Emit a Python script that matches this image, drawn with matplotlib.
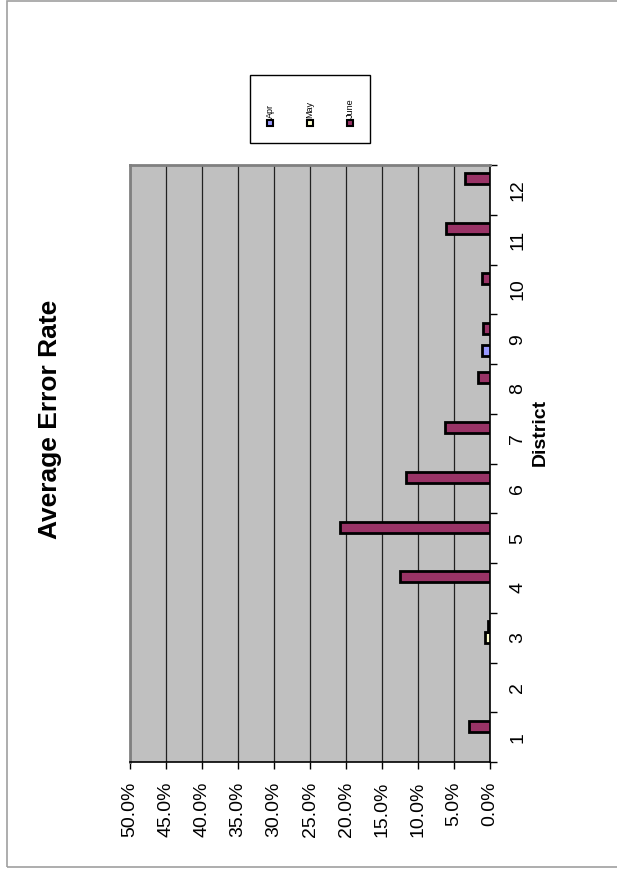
import matplotlib
matplotlib.use("Agg")
import matplotlib.pyplot as plt
import numpy as np
from matplotlib.patches import Rectangle

plt.rcParams['font.family'] = ['Liberation Sans', 'DejaVu Sans']

districts = [1, 2, 3, 4, 5, 6, 7, 8, 9, 10, 11, 12]
series_names = ["Apr", "May", "June"]
apr = [None, None, None, None, None, None, None, None, 1.1, None, None, None]
may = [None, None, 0.7, None, None, None, None, None, None, None, None, None]
june = [2.9, None, 0.3, 12.5, 20.8, 11.6, 6.2, 1.6, 1.0, 1.1, 6.1, 3.5]
colors = ["#9999FF", "#FFFFCC", "#993366"]
value_ticks = [0, 5, 10, 15, 20, 25, 30, 35, 40, 45, 50]

W, H = 617, 872
fig = plt.figure(figsize=(W / 100, H / 100), dpi=100)

# outer chart frame
fig.patches.append(Rectangle((7 / W, 5 / H), 1.2, 866 / H, transform=fig.transFigure,
                             fill=False, edgecolor="#A0A0A0", linewidth=1.2))

ax = fig.add_axes([130 / W, 1 - 762 / H, 360 / W, 597 / H])
ax.set_facecolor("#C0C0C0")

pos = np.array(districts, dtype=float)
bw = 0.222
offsets = [-bw, 0.0, bw]
for vals, off, col, name in zip([apr, may, june], offsets, colors, series_names):
    v = np.array([np.nan if x is None else x for x in vals], dtype=float) / 100.0
    ax.barh(pos + off, v, height=bw, color=col, edgecolor="black", linewidth=2.0,
            label=name, zorder=3)

ax.set_xlim(0.5, 0.0)
ax.set_ylim(0.5, 12.5)

# value axis
ax.set_xticks([t / 100 for t in value_ticks])
ax.set_xticklabels([f"{t:.1f}%" for t in value_ticks], rotation=90, fontsize=14)
ax.tick_params(axis="x", direction="out", length=5, width=1, pad=9, colors="black")
ax.grid(axis="x", color="#222222", linewidth=0.9, zorder=1)

# category axis on the right
ax.yaxis.tick_right()
ax.set_yticks(np.arange(0.5, 13.0, 1.0))
ax.set_yticklabels([])
ax.set_yticks(pos, minor=True)
ax.set_yticklabels([str(d) for d in districts], minor=True, rotation=90,
                   fontsize=14, va="center", ha="left")
ax.tick_params(axis="y", which="major", direction="out", length=5, width=1)
ax.tick_params(axis="y", which="minor", length=0, pad=14)

for s in ["top", "left"]:
    ax.spines[s].set_color("#808080")
    ax.spines[s].set_linewidth(2)
for s in ["bottom", "right"]:
    ax.spines[s].set_color("black")
    ax.spines[s].set_linewidth(1.2)

# titles
fig.text(50 / W, 1 - 419 / H, "Average Error Rate", rotation=90, fontsize=19,
         fontweight="bold", ha="center", va="center")
fig.text(540 / W, 1 - 432 / H, "District", rotation=90, fontsize=14,
         fontweight="bold", ha="center", va="center")

# legend (rotated)
fig.patches.append(Rectangle((250 / W, 1 - 143 / H), 120 / W, 68 / H,
                             transform=fig.transFigure, fill=False,
                             edgecolor="black", linewidth=1))
for i, (name, col) in enumerate(zip(series_names, colors)):
    cx = 270 + 40 * i
    fig.patches.append(Rectangle(((cx - 3) / W, 1 - 126 / H), 6 / W, 6 / H,
                                 transform=fig.transFigure, facecolor=col,
                                 edgecolor="black", linewidth=1.5))
    fig.text(cx / W, 1 - 118 / H, name, rotation=90, fontsize=6.5,
             ha="center", va="bottom")

fig.savefig("out.png", dpi=100)
